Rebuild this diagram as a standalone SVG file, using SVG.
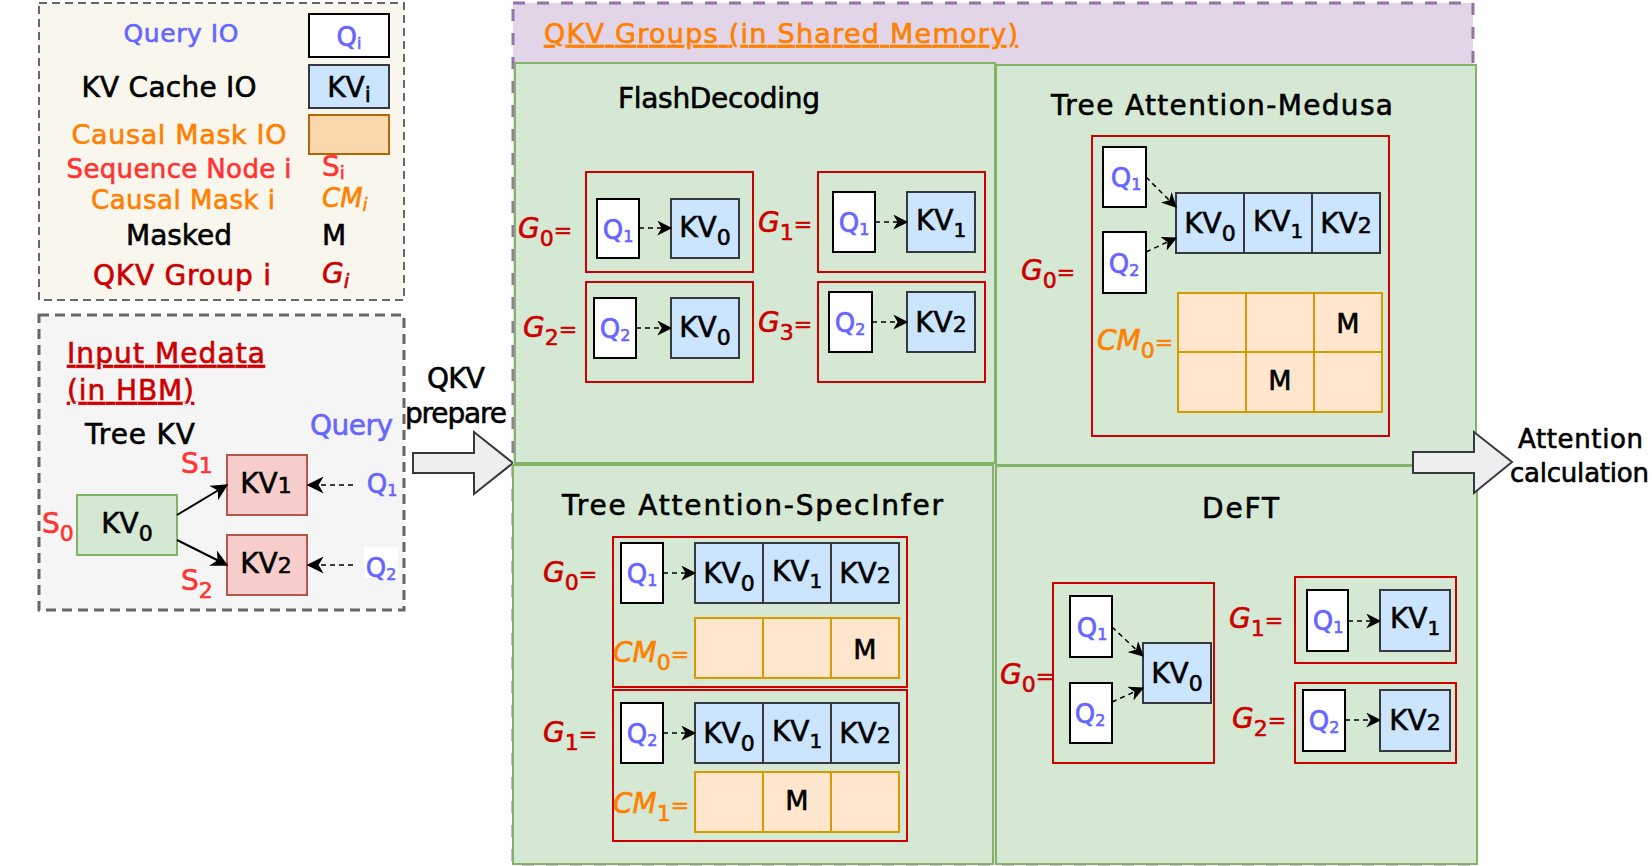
<svg xmlns="http://www.w3.org/2000/svg" width="1652" height="866" viewBox="0 0 1652 866">
<defs>
<style>
text{font-family:"DejaVu Sans","Liberation Sans",sans-serif;font-size:28px;fill:#000;stroke:#000;stroke-width:0.6px}
.panel{fill:#d5e8d4;stroke:#82b366;stroke-width:2}
.grp{fill:none;stroke:#cc0000;stroke-width:2}
.qb{fill:#fff;stroke:#000;stroke-width:2}
.kb{fill:#cce5ff;stroke:#36393d;stroke-width:2}
.cb{fill:#ffe6cc;stroke:#d79b00;stroke-width:2}
.bl{fill:#6666ff;stroke:#6666ff}
.rd{fill:#ff3333;stroke:#ff3333}
.g{fill:#cc0000;stroke:#cc0000}
.cm{fill:#ff8000;stroke:#ff8000}
.qt{font-size:26px;fill:#6666ff;stroke:#6666ff;text-anchor:middle}
.sq{font-size:16px}
.kt{text-anchor:middle}
.sk{font-size:22px}
.it{font-style:italic}
.eq{font-size:22px;font-style:normal}
.mt{font-size:27px;text-anchor:middle}
.dl{fill:none;stroke:#000;stroke-width:1.5;stroke-dasharray:5 4}
.sl{fill:none;stroke:#000;stroke-width:2}
</style>
<marker id="ah" viewBox="0 0 12 12" refX="11" refY="6" markerWidth="15" markerHeight="15" markerUnits="userSpaceOnUse" orient="auto">
<path d="M0,0 L12,6 L0,12 L3.5,6 Z" fill="#000"/>
</marker>
<marker id="ah2" viewBox="0 0 12 12" refX="11" refY="6" markerWidth="17" markerHeight="17" markerUnits="userSpaceOnUse" orient="auto">
<path d="M0,0 L12,6 L0,12 L3.5,6 Z" fill="#000"/>
</marker>
</defs>

<g id="legend">
<rect x="39" y="3" width="365" height="297" fill="#f9f7ed" stroke="#36393d" stroke-width="1.5" stroke-dasharray="8 5"/>
<text x="181" y="42" text-anchor="middle" class="bl" style="font-size:25px" textLength="115">Query IO</text>
<rect x="309" y="14" width="80" height="43" class="qb"/>
<text class="qt" x="349" y="46">Q<tspan class="sq" dy="3">i</tspan></text>
<text x="169" y="97" text-anchor="middle" textLength="175">KV Cache IO</text>
<rect x="309" y="65" width="80" height="43" class="kb"/>
<text class="kt" x="349" y="97">KV<tspan class="sk" dy="5">i</tspan></text>
<text x="179" y="144" text-anchor="middle" class="cm" style="font-size:27px" textLength="215">Causal Mask IO</text>
<rect x="309" y="115" width="80" height="39" fill="#fad7ac" stroke="#b46504" stroke-width="2"/>
<text x="179" y="178" text-anchor="middle" class="rd" style="font-size:26px" textLength="225">Sequence Node i</text>
<text x="322" y="176" class="rd">S<tspan style="font-size:18px" dy="3">i</tspan></text>
<text x="183" y="209" text-anchor="middle" class="cm" style="font-size:26px" textLength="184">Causal Mask i</text>
<text x="322" y="207" class="cm it" style="font-size:26px">CM<tspan style="font-size:18px" dy="4">i</tspan></text>
<text x="179" y="245" text-anchor="middle" textLength="106">Masked</text>
<text x="322" y="245">M</text>
<text x="182" y="285" text-anchor="middle" class="g" textLength="178">QKV Group i</text>
<text x="322" y="283" class="g it">G<tspan style="font-size:20px" dy="5">i</tspan></text>
</g>

<g id="input-metadata">
<rect x="39" y="315" width="365" height="295" fill="#f5f5f5" stroke="#666666" stroke-width="3" stroke-dasharray="10 6"/>
<text x="67" y="363" class="g" text-decoration="underline" textLength="198">Input Medata</text>
<text x="67" y="400" class="g" text-decoration="underline" textLength="127">(in HBM)</text>
<text x="85" y="444" textLength="110">Tree KV</text>
<text x="310" y="435" class="bl" textLength="83">Query</text>
</g>

<g id="tree-kv0">
<rect x="77" y="495" width="100" height="60" fill="#d5e8d4" stroke="#82b366" stroke-width="2"/>
<text class="kt" x="127" y="533">KV<tspan class="sk" dy="8">0</tspan></text>
<text x="42" y="533" class="rd">S<tspan class="sk" dy="8">0</tspan></text>
</g>
<g id="tree-kv1">
<rect x="227" y="455" width="80" height="60" fill="#f8cecc" stroke="#b85450" stroke-width="2"/>
<text class="kt" x="266" y="493">KV<tspan class="sk">1</tspan></text>
<text x="181" y="473" class="rd">S<tspan class="sk">1</tspan></text>
</g>
<g id="tree-kv2">
<rect x="227" y="535" width="80" height="60" fill="#f8cecc" stroke="#b85450" stroke-width="2"/>
<text class="kt" x="266" y="573">KV<tspan class="sk">2</tspan></text>
<text x="181" y="590" class="rd">S<tspan class="sk" dy="8">2</tspan></text>
</g>
<g id="tree-q">
<text class="qt" x="382" y="493">Q<tspan class="sq" dy="3">1</tspan></text>
<rect x="364" y="547" width="34" height="31" fill="#ffffff"/>
<text class="qt" x="381" y="577">Q<tspan class="sq" dy="3">2</tspan></text>
</g>

<g id="qkv-prepare">
<text x="456" y="388" text-anchor="middle" textLength="58">QKV</text>
<text x="456" y="423" text-anchor="middle" textLength="102">prepare</text>
<polygon points="413,453 474,453 474,432 513,463 474,494 474,473 413,473" fill="#eeeeee" stroke="#36393d" stroke-width="2"/>
</g>

<g id="shared-memory">
<rect x="513" y="3" width="960" height="861" fill="#e1d5e7" stroke="#9673a6" stroke-width="3" stroke-dasharray="12 12"/>
<text x="544" y="43" class="cm" style="font-size:27px" text-decoration="underline" textLength="474">QKV Groups (in Shared Memory)</text>
</g>

<g id="flashdecoding">
<rect x="515" y="63" width="480" height="400" class="panel"/>
<text x="618" y="108" textLength="202">FlashDecoding</text>
<text x="518" y="238" class="g"><tspan class="it">G</tspan><tspan class="sk" dy="8">0</tspan><tspan class="eq" dy="-8">=</tspan></text>
<rect x="586" y="172" width="167" height="100" class="grp"/>
<rect x="597" y="199" width="42" height="59" class="qb"/>
<text class="qt" x="618" y="239">Q<tspan class="sq" dy="3">1</tspan></text>
<rect x="671" y="199" width="68" height="59" class="kb"/>
<text class="kt" x="705" y="237">KV<tspan class="sk" dy="8">0</tspan></text>
<text x="758" y="232" class="g"><tspan class="it">G</tspan><tspan class="sk" dy="8">1</tspan><tspan class="eq" dy="-8">=</tspan></text>
<rect x="818" y="172" width="167" height="100" class="grp"/>
<rect x="833" y="192" width="42" height="60" class="qb"/>
<text class="qt" x="854" y="232">Q<tspan class="sq" dy="3">1</tspan></text>
<rect x="907" y="192" width="68" height="60" class="kb"/>
<text class="kt" x="941" y="230">KV<tspan style="font-size:20px" dy="7">1</tspan></text>
<text x="523" y="337" class="g"><tspan class="it">G</tspan><tspan class="sk" dy="8">2</tspan><tspan class="eq" dy="-8">=</tspan></text>
<rect x="586" y="282" width="167" height="100" class="grp"/>
<rect x="594" y="298" width="42" height="60" class="qb"/>
<text class="qt" x="615" y="338">Q<tspan class="sq" dy="3">2</tspan></text>
<rect x="671" y="298" width="68" height="60" class="kb"/>
<text class="kt" x="705" y="337">KV<tspan class="sk" dy="8">0</tspan></text>
<text x="758" y="332" class="g"><tspan class="it">G</tspan><tspan class="sk" dy="8">3</tspan><tspan class="eq" dy="-8">=</tspan></text>
<rect x="818" y="282" width="167" height="100" class="grp"/>
<rect x="829" y="292" width="43" height="60" class="qb"/>
<text class="qt" x="850" y="332">Q<tspan class="sq" dy="3">2</tspan></text>
<rect x="907" y="292" width="68" height="60" class="kb"/>
<text class="kt" x="941" y="332">KV<tspan class="sk">2</tspan></text>
</g>

<g id="medusa">
<rect x="996" y="65" width="480" height="400" class="panel"/>
<text x="1051" y="115" textLength="342">Tree Attention-Medusa</text>
<text x="1021" y="280" class="g"><tspan class="it">G</tspan><tspan class="sk" dy="8">0</tspan><tspan class="eq" dy="-8">=</tspan></text>
<rect x="1092" y="136" width="297" height="300" class="grp"/>
<rect x="1103" y="147" width="43" height="60" class="qb"/>
<text class="qt" x="1126" y="187">Q<tspan class="sq" dy="3">1</tspan></text>
<rect x="1103" y="232" width="43" height="61" class="qb"/>
<text class="qt" x="1124" y="273">Q<tspan class="sq" dy="3">2</tspan></text>
<rect x="1176" y="193" width="68" height="60" class="kb"/>
<rect x="1244" y="193" width="68" height="60" class="kb"/>
<rect x="1312" y="193" width="68" height="60" class="kb"/>
<text class="kt" x="1210" y="233">KV<tspan class="sk" dy="8">0</tspan></text>
<text class="kt" x="1278" y="231">KV<tspan style="font-size:20px" dy="7">1</tspan></text>
<text class="kt" x="1346" y="233">KV<tspan class="sk">2</tspan></text>
<text x="1097" y="350" class="cm"><tspan class="it">CM</tspan><tspan class="sk" dy="8">0</tspan><tspan class="eq" dy="-8">=</tspan></text>
<rect x="1178" y="293" width="68" height="59" class="cb"/>
<rect x="1246" y="293" width="68" height="59" class="cb"/>
<rect x="1314" y="293" width="68" height="59" class="cb"/>
<rect x="1178" y="352" width="68" height="60" class="cb"/>
<rect x="1246" y="352" width="68" height="60" class="cb"/>
<rect x="1314" y="352" width="68" height="60" class="cb"/>
<text class="mt" x="1348" y="333">M</text>
<text class="mt" x="1280" y="390">M</text>
</g>

<g id="specinfer">
<rect x="513" y="465" width="480" height="399" class="panel"/>
<text x="562" y="515" textLength="381">Tree Attention-SpecInfer</text>
<text x="543" y="582" class="g"><tspan class="it">G</tspan><tspan class="sk" dy="8">0</tspan><tspan class="eq" dy="-8">=</tspan></text>
<rect x="613" y="537" width="294" height="150" class="grp"/>
<rect x="621" y="543" width="42" height="60" class="qb"/>
<text class="qt" x="642" y="583">Q<tspan class="sq" dy="3">1</tspan></text>
<rect x="695" y="543" width="68" height="60" class="kb"/>
<rect x="763" y="543" width="68" height="60" class="kb"/>
<rect x="831" y="543" width="68" height="60" class="kb"/>
<text class="kt" x="729" y="583">KV<tspan class="sk" dy="8">0</tspan></text>
<text class="kt" x="797" y="581">KV<tspan style="font-size:20px" dy="7">1</tspan></text>
<text class="kt" x="865" y="583">KV<tspan class="sk">2</tspan></text>
<text x="613" y="662" class="cm"><tspan class="it">CM</tspan><tspan class="sk" dy="8">0</tspan><tspan class="eq" dy="-8">=</tspan></text>
<rect x="695" y="618" width="68" height="60" class="cb"/>
<rect x="763" y="618" width="68" height="60" class="cb"/>
<rect x="831" y="618" width="68" height="60" class="cb"/>
<text class="mt" x="865" y="659">M</text>
<text x="543" y="742" class="g"><tspan class="it">G</tspan><tspan class="sk" dy="8">1</tspan><tspan class="eq" dy="-8">=</tspan></text>
<rect x="613" y="690" width="294" height="151" class="grp"/>
<rect x="621" y="703" width="42" height="60" class="qb"/>
<text class="qt" x="642" y="743">Q<tspan class="sq" dy="3">2</tspan></text>
<rect x="695" y="703" width="68" height="60" class="kb"/>
<rect x="763" y="703" width="68" height="60" class="kb"/>
<rect x="831" y="703" width="68" height="60" class="kb"/>
<text class="kt" x="729" y="743">KV<tspan class="sk" dy="8">0</tspan></text>
<text class="kt" x="797" y="741">KV<tspan style="font-size:20px" dy="7">1</tspan></text>
<text class="kt" x="865" y="743">KV<tspan class="sk">2</tspan></text>
<text x="613" y="813" class="cm"><tspan class="it">CM</tspan><tspan class="sk" dy="8">1</tspan><tspan class="eq" dy="-8">=</tspan></text>
<rect x="695" y="772" width="68" height="60" class="cb"/>
<rect x="763" y="772" width="68" height="60" class="cb"/>
<rect x="831" y="772" width="68" height="60" class="cb"/>
<text class="mt" x="797" y="810">M</text>
</g>

<g id="deft">
<rect x="996" y="466" width="481" height="398" class="panel"/>
<text x="1202" y="518" textLength="77">DeFT</text>
<text x="1000" y="684" class="g"><tspan class="it">G</tspan><tspan class="sk" dy="8">0</tspan><tspan class="eq" dy="-8">=</tspan></text>
<rect x="1053" y="583" width="161" height="180" class="grp"/>
<rect x="1070" y="596" width="42" height="61" class="qb"/>
<text class="qt" x="1092" y="637">Q<tspan class="sq" dy="3">1</tspan></text>
<rect x="1070" y="683" width="42" height="60" class="qb"/>
<text class="qt" x="1090" y="723">Q<tspan class="sq" dy="3">2</tspan></text>
<rect x="1143" y="643" width="68" height="60" class="kb"/>
<text class="kt" x="1177" y="683">KV<tspan class="sk" dy="8">0</tspan></text>
<text x="1229" y="628" class="g"><tspan class="it">G</tspan><tspan class="sk" dy="8">1</tspan><tspan class="eq" dy="-8">=</tspan></text>
<rect x="1295" y="577" width="161" height="86" class="grp"/>
<rect x="1307" y="590" width="41" height="61" class="qb"/>
<text class="qt" x="1328" y="630">Q<tspan class="sq" dy="3">1</tspan></text>
<rect x="1380" y="590" width="70" height="61" class="kb"/>
<text class="kt" x="1415" y="628">KV<tspan style="font-size:20px" dy="7">1</tspan></text>
<text x="1232" y="728" class="g"><tspan class="it">G</tspan><tspan class="sk" dy="8">2</tspan><tspan class="eq" dy="-8">=</tspan></text>
<rect x="1295" y="683" width="161" height="80" class="grp"/>
<rect x="1303" y="690" width="42" height="61" class="qb"/>
<text class="qt" x="1324" y="730">Q<tspan class="sq" dy="3">2</tspan></text>
<rect x="1380" y="690" width="70" height="61" class="kb"/>
<text class="kt" x="1415" y="730">KV<tspan class="sk">2</tspan></text>
</g>

<g id="attention-calculation">
<polygon points="1413,452 1474,452 1474,432 1512,462 1474,493 1474,473 1413,473" fill="#eeeeee" stroke="#36393d" stroke-width="2"/>
<text x="1518" y="448" style="font-size:26px" textLength="125">Attention</text>
<text x="1510" y="482" style="font-size:26px" textLength="139">calculation</text>
</g>

<g id="connectors">
<line x1="177" y1="515" x2="227" y2="485" class="sl" marker-end="url(#ah2)"/>
<line x1="177" y1="540" x2="227" y2="565" class="sl" marker-end="url(#ah2)"/>
<line x1="353" y1="485" x2="308" y2="485" class="dl" marker-end="url(#ah2)"/>
<line x1="353" y1="565" x2="308" y2="565" class="dl" marker-end="url(#ah2)"/>
<line x1="639" y1="228" x2="671" y2="228" class="dl" marker-end="url(#ah)"/>
<line x1="875" y1="222" x2="907" y2="222" class="dl" marker-end="url(#ah)"/>
<line x1="636" y1="328" x2="671" y2="328" class="dl" marker-end="url(#ah)"/>
<line x1="872" y1="322" x2="907" y2="322" class="dl" marker-end="url(#ah)"/>
<line x1="1146" y1="177" x2="1176" y2="207" class="dl" marker-end="url(#ah)"/>
<line x1="1146" y1="252" x2="1176" y2="238" class="dl" marker-end="url(#ah)"/>
<line x1="663" y1="573" x2="695" y2="573" class="dl" marker-end="url(#ah)"/>
<line x1="663" y1="733" x2="695" y2="733" class="dl" marker-end="url(#ah)"/>
<line x1="1112" y1="627" x2="1143" y2="656" class="dl" marker-end="url(#ah)"/>
<line x1="1112" y1="702" x2="1143" y2="688" class="dl" marker-end="url(#ah)"/>
<line x1="1348" y1="621" x2="1380" y2="621" class="dl" marker-end="url(#ah)"/>
<line x1="1345" y1="720" x2="1380" y2="720" class="dl" marker-end="url(#ah)"/>
</g>
</svg>
